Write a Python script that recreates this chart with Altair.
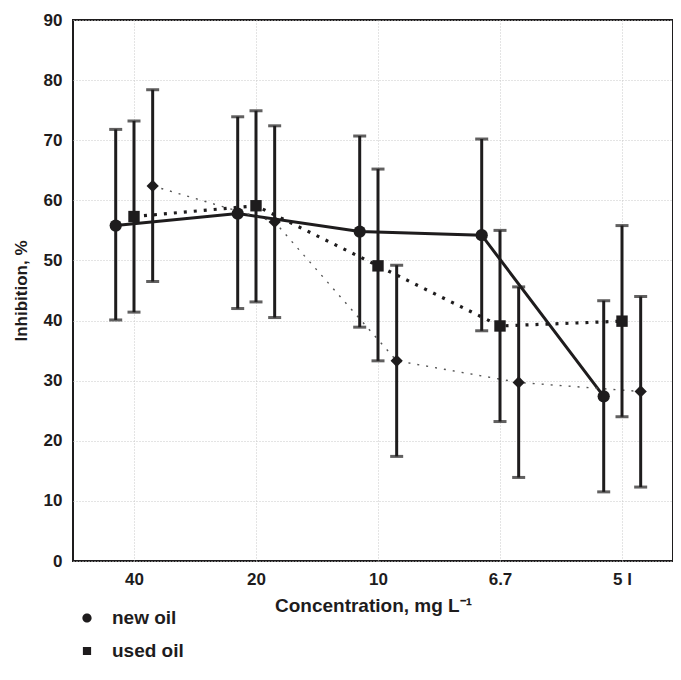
import json
import altair as alt
import pandas as pd

# ---- data ----
categories = ["40", "20", "10", "6.7", "5 l"]
series = ["new oil", "used oil", "oil after regeneration"]

new_mean = [55.8, 57.8, 54.8, 54.2, 27.4]
new_lo = [40.1, 42.0, 38.9, 38.3, 11.5]
new_hi = [71.8, 73.9, 70.7, 70.2, 43.3]

used_mean = [57.3, 59.1, 49.1, 39.1, 39.9]
used_lo = [41.4, 43.1, 33.3, 23.2, 24.0]
used_hi = [73.2, 74.9, 65.2, 55.0, 55.8]

regen_mean = [62.4, 56.4, 33.3, 29.7, 28.2]
regen_lo = [46.5, 40.5, 17.4, 13.9, 12.3]
regen_hi = [78.4, 72.4, 49.2, 45.6, 44.0]

# ---- build the table ----
rows = []
for s, m, lo, hi in [
    (series[0], new_mean, new_lo, new_hi),
    (series[1], used_mean, used_lo, used_hi),
    (series[2], regen_mean, regen_lo, regen_hi),
]:
    for i, c in enumerate(categories):
        rows.append({"idx": i, "conc": c, "series": s, "mean": m[i], "lo": lo[i], "hi": hi[i]})
df = pd.DataFrame(rows)

# dodge of the three series inside each category (layout)
dodge = {series[0]: -0.15, series[1]: 0.0, series[2]: 0.153}
df["pos"] = df["idx"] + df["series"].map(dodge)

INK = "#1e1c1d"
FONT = "Liberation Sans"

label_expr = json.dumps(categories) + "[datum.value]"

x_enc = alt.X(
    "pos:Q",
    scale=alt.Scale(domain=[-0.5, 4.418], nice=False, zero=False),
    axis=alt.Axis(
        values=list(range(len(categories))),
        labelExpr=label_expr,
        title="Concentration, mg L\u207b\u00b9",
        grid=True,
        ticks=False,
        domain=False,
        labelPadding=10,
        titlePadding=9,
    ),
)
y_enc = alt.Y(
    "mean:Q",
    scale=alt.Scale(domain=[0, 90], nice=False),
    axis=alt.Axis(
        values=list(range(0, 100, 10)),
        title="Inhibition, %",
        grid=True,
        ticks=False,
        domain=False,
        labelPadding=11,
        titlePadding=13,
    ),
)

base = alt.Chart(df)

# per-series styles (no non-positional scales, so only the legend scale exists)
line_styles = [
    dict(color=INK, strokeWidth=3),
    dict(color=INK, strokeWidth=3.2, strokeDash=[3, 7]),
    dict(color="#555555", strokeWidth=1.4, strokeDash=[2, 7]),
]
line_layers = []
for k, (s, st) in enumerate(zip(series, line_styles)):
    enc = dict(x=x_enc, y=y_enc) if k == 0 else dict(x="pos:Q", y="mean:Q")
    line_layers.append(
        base.transform_filter(alt.datum.series == s)
        .mark_line(**st)
        .encode(order="idx:Q", **enc)
    )

bars = base.mark_rule(color=INK, strokeWidth=3).encode(
    x="pos:Q", y="lo:Q", y2="hi:Q"
)
cap_lo = base.mark_tick(color=INK, orient="horizontal", size=13, thickness=3).encode(
    x="pos:Q", y="lo:Q"
)
cap_hi = base.mark_tick(color=INK, orient="horizontal", size=13, thickness=3).encode(
    x="pos:Q", y="hi:Q"
)

marker_shapes = ["circle", "square", "diamond"]
marker_sizes = [150, 130, 150]
point_layers = [
    base.transform_filter(alt.datum.series == s)
    .mark_point(filled=True, opacity=1, color=INK, shape=shp, size=sz)
    .encode(x="pos:Q", y="mean:Q")
    for s, shp, sz in zip(series, marker_shapes, marker_sizes)
]

# legend glyphs: error bar + marker + line style (unit = sqrt(420)/2 ~ 10.25 px)
caps = "M-1.46,-1.1H1.46M-1.46,1.1H1.46M0,-1.1V1.1"
glyph_new = caps + "M-1.46,0H1.46M0.45,0A0.45,0.45,0,1,1,-0.45,0A0.45,0.45,0,1,1,0.45,0Z"
glyph_used = caps + ("M-1.46,0H-1.27M-0.98,0H-0.78M0.78,0H0.98M1.27,0H1.46"
                     "M-0.4,-0.4H0.4V0.4H-0.4Z")
glyph_regen = caps + "M-1.46,0H-1.36M1.36,0H1.46M0,-0.49L0.49,0L0,0.49L-0.49,0Z"

legend_layer = base.transform_filter("datum.idx < 0").mark_point(
    filled=True, opacity=1, color=INK
).encode(
    x="pos:Q",
    y="mean:Q",
    shape=alt.Shape(
        "series:N",
        scale=alt.Scale(domain=series, range=[glyph_new, glyph_used, glyph_regen]),
        legend=alt.Legend(
            title=None,
            orient="none",
            legendX=2.5,
            legendY=586.5,
            padding=0,
            symbolSize=420,
            symbolStrokeWidth=2.5,
            symbolFillColor=INK,
            symbolStrokeColor=INK,
            labelOffset=13.5,
            labelFont=FONT,
            labelFontSize=19,
            labelFontWeight="bold",
            labelColor=INK,
            rowPadding=0,
        ),
    ),
)

chart = (
    alt.layer(*line_layers, bars, cap_lo, cap_hi, *point_layers, legend_layer)
    .properties(
        width=600,
        height=541,
        autosize=alt.AutoSizeParams(type="none"),
        padding={"left": 65, "top": 12, "right": 0, "bottom": 111},
        background="white",
    )
    .configure_view(stroke=INK, strokeWidth=2)
    .configure_axis(
        labelFont=FONT,
        labelFontSize=17,
        labelFontWeight="bold",
        labelColor=INK,
        titleFont=FONT,
        titleFontSize=19,
        titleFontWeight="bold",
        titleColor=INK,
        gridColor="#c8c8c8",
        gridDash=[1, 2],
        gridWidth=1,
    )
    .configure_axisY(titleFontSize=17)
)

chart.save("out.html", embed_options={"renderer": "svg", "actions": False})
